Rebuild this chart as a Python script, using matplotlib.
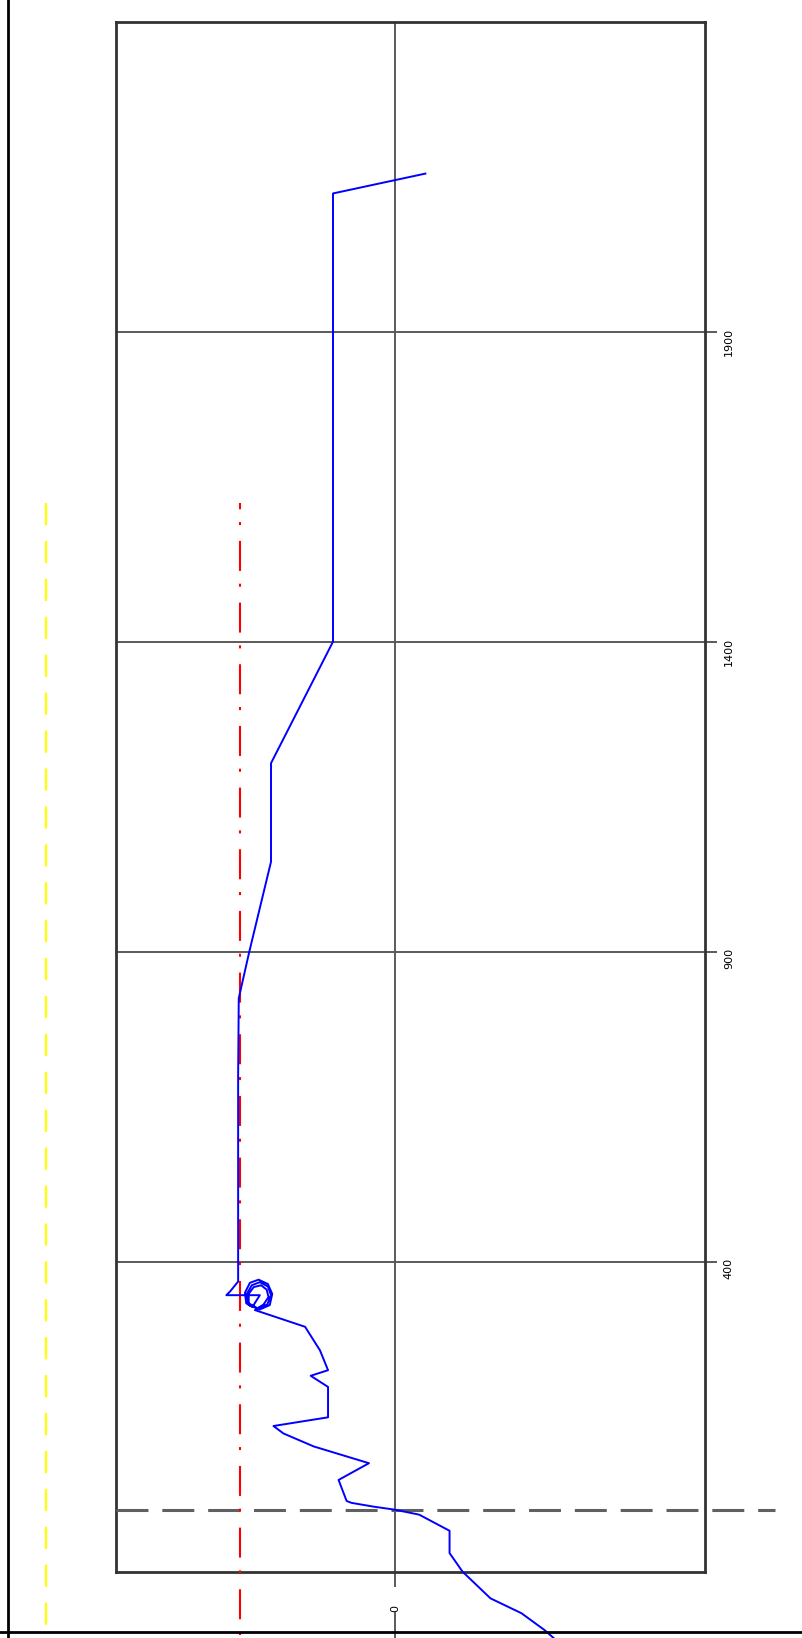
import matplotlib
matplotlib.use('Agg')
import matplotlib.pyplot as plt
from matplotlib.lines import Line2D

# Trajetória (afastamento horizontal, cota)
traj_x = [49, -100, -100, -200, -200, -235, -252, -253, -253, -266, -272, -218, -230,
          -240, -242, -234, -220, -205, -198, -202, -218, -236, -239, -231, -218, -205,
          -200, -206, -222, -236, -236, -228, -216, -207, -204, -212, -226,
          -145, -121, -108, -136, -108, -108, -196, -180, -131, -42, -91, -78, -70, -35,
          0, 39, 88, 88, 109, 154, 204, 241, 265]
traj_y = [2155, 2123, 1400, 1204, 1045, 900, 825, 700, 368, 352, 346, 346, 327,
          333, 350, 366, 371, 364, 348, 330, 323, 330, 348, 362, 367, 360,
          346, 331, 325, 333, 348, 359, 362, 355, 343, 331, 322,
          295, 257, 225, 216, 198, 149, 135, 123, 102, 75, 48, 14, 11, 5,
          0, -8, -34, -70, -100, -143, -167, -194, -215]

y_ticks = [400, 900, 1400, 1900]
x_ticks = [0]

X_LIM = (-450, 500)
Y_LIM = (-100, 2400)

RED_X = -250          # linha de referência traço-ponto
YELLOW_X = -563       # linha tracejada amarela
REF_TOP = 1624        # início das duas linhas de referência
ZERO_END = 613        # fim da linha tracejada em y = 0
BOTTOM = -215         # abaixo da borda da figura

GRID_C = '#5a5a5a'

plt.rcParams['lines.scale_dashes'] = False

W, H = 802, 1638
fig = plt.figure(figsize=(W / 100, H / 100), dpi=100)
fig.patch.set_facecolor('white')

# caixa dos eixos em pixels: x 116..705, y 21.7..1571.7
ax = fig.add_axes([116 / W, (H - 1571.7) / H, 589 / W, 1550 / H])
ax.set_xlim(*X_LIM)
ax.set_ylim(*Y_LIM)

ax.grid(True, color=GRID_C, lw=1.4)
ax.set_axisbelow(True)
for sp in ax.spines.values():
    sp.set_color('#333333')
    sp.set_linewidth(2.0)

ax.yaxis.tick_right()
ax.set_yticks(y_ticks)
ax.set_yticklabels([str(v) for v in y_ticks])
ax.set_xticks(x_ticks)
ax.set_xticklabels([str(v) for v in x_ticks])
ax.tick_params(axis='y', direction='out', length=8.6, width=1.4, color=GRID_C,
               pad=5, labelsize=8, labelrotation=90)
ax.tick_params(axis='x', direction='out', length=10.8, width=1.4, color=GRID_C,
               pad=13, labelsize=8, labelrotation=90)

# prolongamento do eixo x = 0 abaixo do rótulo
ax.plot([0, 0], [-167, BOTTOM], color=GRID_C, lw=1.4, clip_on=False)

# linha tracejada em y = 0
ax.plot([X_LIM[0], ZERO_END], [0, 0], color='#606060', lw=2.2,
        linestyle=(0, (23, 10)), clip_on=False, zorder=3)

# linhas de referência verticais
ax.plot([RED_X, RED_X], [REF_TOP, BOTTOM], color='#ff0000', lw=1.5,
        linestyle=(17.1, (21.6, 9.2, 2.2, 11.4)), clip_on=False, zorder=3)
ax.plot([YELLOW_X, YELLOW_X], [REF_TOP, BOTTOM], color='#ffff00', lw=1.6,
        linestyle=(0, (16, 11.3)), clip_on=False, zorder=3)

# trajetória
ax.plot(traj_x, traj_y, color='#0000ff', lw=1.4, clip_on=False, zorder=4)

# moldura (esquerda e inferior)
fig.add_artist(Line2D([8 / W, 8 / W], [0, 1], transform=fig.transFigure,
                      color='black', lw=2))
fig.add_artist(Line2D([0, 1], [(H - 1632) / H] * 2, transform=fig.transFigure,
                      color='black', lw=2))

fig.savefig('out.png', dpi=100)
